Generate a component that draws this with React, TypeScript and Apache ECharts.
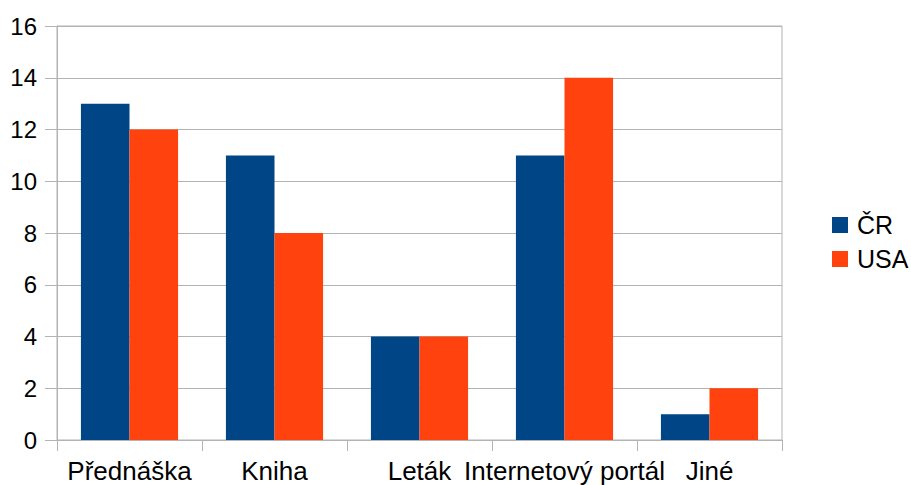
import React, { useEffect, useRef } from "react";
import * as echarts from "echarts";

const categories = ["Přednáška", "Kniha", "Leták", "Internetový portál", "Jiné"];
const crValues = [13, 11, 4, 11, 1];
const usaValues = [12, 8, 4, 14, 2];
const seriesNames = ["ČR", "USA"];
const seriesColors = ["#004586", "#ff420e"];

const FONT = "'Liberation Sans', Arial, sans-serif";
const AXIS_GRAY = "#b3b3b3";

export default function App() {
  const ref = useRef<HTMLDivElement>(null);

  useEffect(() => {
    if (!ref.current) return;
    const chart = echarts.init(ref.current, undefined, { renderer: "svg" });
    chart.setOption({
      animation: false,
      backgroundColor: "#ffffff",
      textStyle: { fontFamily: FONT },
      grid: {
        left: 57,
        top: 26,
        right: 129,
        bottom: 45,
        show: true,
        borderColor: AXIS_GRAY,
        borderWidth: 1,
        containLabel: false,
      },
      legend: {
        orient: "vertical",
        left: 832,
        top: 212,
        padding: 0,
        itemWidth: 16,
        itemHeight: 16,
        itemGap: 8,
        icon: "rect",
        textStyle: { fontSize: 25, color: "#000", fontFamily: FONT, lineHeight: 26, padding: [0, 0, 0, 4] },
        data: seriesNames,
      },
      xAxis: {
        type: "category",
        data: categories,
        boundaryGap: true,
        axisLine: { show: true, lineStyle: { color: AXIS_GRAY, width: 1 } },
        axisTick: { show: true, length: 11, interval: 0, lineStyle: { color: AXIS_GRAY } },
        axisLabel: { interval: 0, fontSize: 26, color: "#000", fontFamily: FONT, margin: 18 },
        splitLine: { show: false },
      },
      yAxis: {
        type: "value",
        min: 0,
        max: 16,
        interval: 2,
        axisLine: { show: true, lineStyle: { color: AXIS_GRAY, width: 1 } },
        axisTick: { show: true, length: 12, lineStyle: { color: AXIS_GRAY } },
        axisLabel: { fontSize: 24, color: "#000", fontFamily: FONT, margin: 20 },
        splitLine: { show: true, lineStyle: { color: AXIS_GRAY, width: 1 } },
      },
      series: [
        {
          name: seriesNames[0],
          type: "bar",
          data: crValues,
          itemStyle: { color: seriesColors[0] },
          barGap: "0%",
          barCategoryGap: "33%",
        },
        {
          name: seriesNames[1],
          type: "bar",
          data: usaValues,
          itemStyle: { color: seriesColors[1] },
          barGap: "0%",
          barCategoryGap: "33%",
        },
      ],
    });
    return () => chart.dispose();
  }, []);

  return (
    <div
      ref={ref}
      style={{ position: "absolute", left: 0, top: 0, width: 911, height: 485 }}
    />
  );
}
